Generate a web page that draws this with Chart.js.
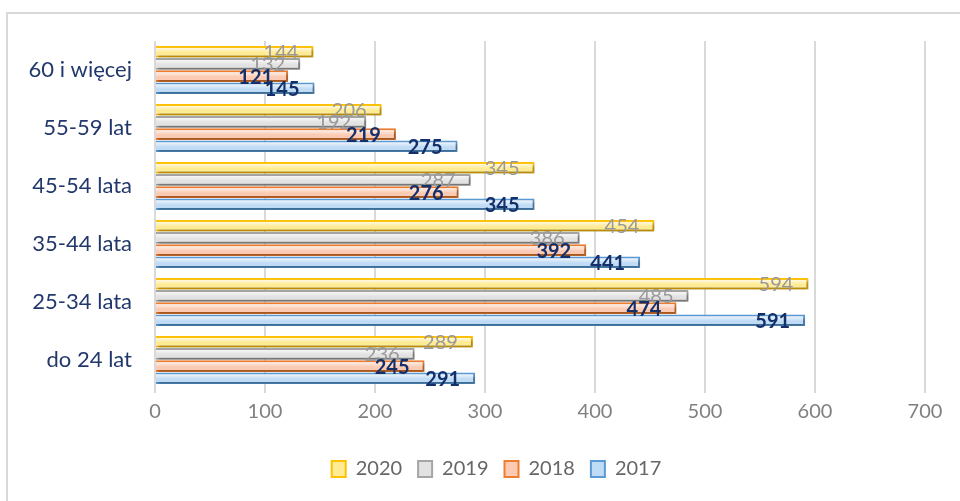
<!DOCTYPE html>
<html>
<head>
<meta charset="utf-8">
<script src="https://cdn.jsdelivr.net/npm/chart.js@4"></script>
<style>
  html, body { margin: 0; padding: 0; background: #fff; }
  #wrap { position: relative; width: 960px; height: 501px; }
  #frame { position: absolute; left: 6px; top: 12px; right: -4px; bottom: -4px;
           border-left: 2px solid #d9d9d9; border-top: 2px solid #d9d9d9; }
  canvas { position: absolute; left: 0; top: 0; }
</style>
</head>
<body>
<div id="wrap">
  <div id="frame"></div>
  <canvas id="chart" width="960" height="501"></canvas>
</div>
<script>
// age groups, top to bottom
const groups = ["60 i więcej", "55-59 lat", "45-54 lata", "35-44 lata", "25-34 lata", "do 24 lat"];
const years = ["2020", "2019", "2018", "2017"];

const v2020 = [144, 206, 345, 454, 594, 289];
const v2019 = [132, 192, 287, 386, 485, 236];
const v2018 = [121, 219, 276, 392, 474, 245];
const v2017 = [145, 275, 345, 441, 591, 291];

const fills = ['#ffeb94', '#e2e2e2', '#fccab3', '#c0dbf5'];
const edges = ['#ffc000', '#a5a5a5', '#ed7d31', '#5b9bd5'];
const labelColors = ['#999999', '#999999', '#14306b', '#14306b'];
const labelBold = [false, false, true, true];

const FONT = 'Lato, "Open Sans", sans-serif';

// soft drop shadow under the bars
const shadowPlugin = {
  id: 'shadow',
  beforeDatasetsDraw(chart) {
    const ctx = chart.ctx;
    ctx.save();
    ctx.shadowColor = 'rgba(0,0,0,0.35)';
    ctx.shadowOffsetX = 2;
    ctx.shadowOffsetY = 2;
    ctx.shadowBlur = 3;
  },
  afterDatasetsDraw(chart) {
    chart.ctx.restore();
  }
};

// light sheen on the upper half of each bar, like the office preset
const sheen = {
  id: 'sheen',
  afterDatasetsDraw(chart) {
    const ctx = chart.ctx;
    ctx.save();
    chart.data.datasets.forEach((ds, i) => {
      chart.getDatasetMeta(i).data.forEach(bar => {
        const top = bar.y - bar.height / 2 + 2;
        const h = bar.height - 4;
        const g = ctx.createLinearGradient(0, top, 0, top + h);
        g.addColorStop(0, 'rgba(255,255,255,0.7)');
        g.addColorStop(0.6, 'rgba(255,255,255,0)');
        ctx.fillStyle = g;
        ctx.fillRect(bar.base, top, bar.x - bar.base - 2, h);
      });
    });
    ctx.restore();
  }
};

// value labels at the inner end of every bar
const valueLabels = {
  id: 'valueLabels',
  afterDatasetsDraw(chart) {
    const ctx = chart.ctx;
    ctx.save();
    ctx.textAlign = 'right';
    ctx.textBaseline = 'middle';
    chart.data.datasets.forEach((ds, i) => {
      const meta = chart.getDatasetMeta(i);
      ctx.font = (labelBold[i] ? 'bold ' : '') + '20px ' + FONT;
      ctx.fillStyle = labelColors[i];
      meta.data.forEach((bar, j) => {
        ctx.fillText(ds.data[j], bar.x - 15, bar.y + 1);
      });
    });
    ctx.restore();
  }
};

// the excel legend sits a bit right of the plot centre
const legendShift = {
  id: 'legendShift',
  afterLayout(chart) {
    chart.legend.left += 29;
    chart.legend.right += 29;
  }
};

const allValues = [v2020, v2019, v2018, v2017];

new Chart(document.getElementById('chart'), {
  type: 'bar',
  data: {
    labels: groups,
    datasets: years.map((y, i) => ({
      label: y,
      data: allValues[i],
      backgroundColor: fills[i],
      borderColor: edges[i],
      borderWidth: 2,
      categoryPercentage: 0.84,
      barPercentage: 0.96
    }))
  },
  options: {
    indexAxis: 'y',
    responsive: false,
    animation: false,
    layout: { padding: { top: 41, right: 35, bottom: 12, left: 10 } },
    scales: {
      x: {
        min: 0, max: 700,
        afterFit(axis) { axis.height = 54; },
        ticks: { stepSize: 100, color: '#808080', font: { family: FONT, size: 20 }, padding: 7 },
        grid: { color: '#d9d9d9', lineWidth: 2, drawTicks: true, tickLength: 4 },
        border: { display: false }
      },
      y: {
        afterFit(axis) { axis.width = 145; },
        ticks: { color: '#22386b', font: { family: FONT, size: 22 }, padding: 23 },
        grid: { display: false, drawTicks: false },
        border: { display: false }
      }
    },
    plugins: {
      legend: {
        position: 'bottom',
        labels: {
          color: '#666666',
          font: { family: FONT, size: 20 },
          boxWidth: 14, boxHeight: 16,
          padding: 16,
          generateLabels(chart) {
            return chart.data.datasets.map((ds, i) => ({
              text: ds.label,
              fillStyle: fills[i],
              strokeStyle: edges[i],
              lineWidth: 2,
              fontColor: '#666666',
              datasetIndex: i
            }));
          }
        }
      },
      tooltip: { enabled: false }
    }
  },
  plugins: [shadowPlugin, sheen, valueLabels, legendShift]
});
</script>
</body>
</html>
